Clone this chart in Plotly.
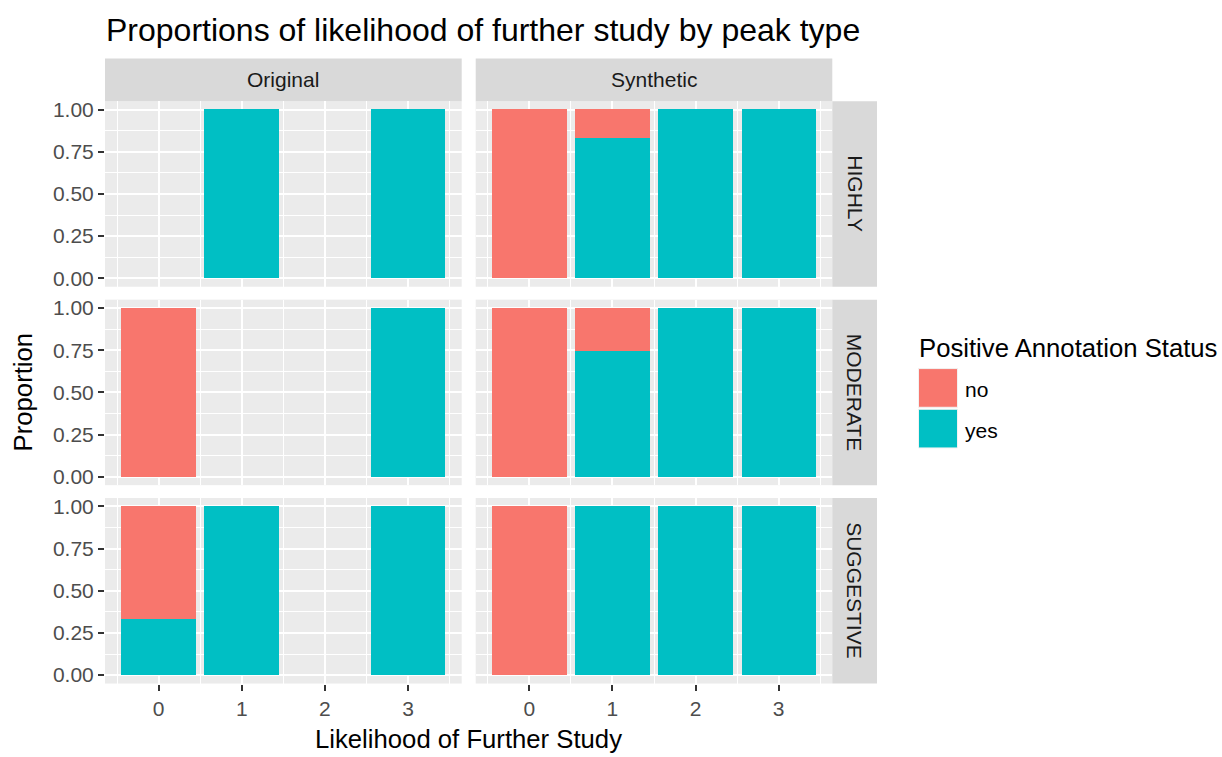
import plotly.graph_objects as go

# ---- data ----
x_levels = [0, 1, 2, 3]
col_facets = ["Original", "Synthetic"]
row_facets = ["HIGHLY", "MODERATE", "SUGGESTIVE"]
y_ticks = [0, 0.25, 0.5, 0.75, 1.0]
y_ticklabels = ["0.00", "0.25", "0.50", "0.75", "1.00"]

# proportions per panel, indexed by x level (None = no bar)
orig_highly_yes = [None, 1.0, None, 1.0]
orig_highly_no = [None, 0.0, None, 0.0]
orig_moderate_yes = [0.0, None, None, 1.0]
orig_moderate_no = [1.0, None, None, 0.0]
orig_suggestive_yes = [0.333, 1.0, None, 1.0]
orig_suggestive_no = [0.667, 0.0, None, 0.0]

synth_highly_yes = [0.0, 0.833, 1.0, 1.0]
synth_highly_no = [1.0, 0.167, 0.0, 0.0]
synth_moderate_yes = [0.0, 0.75, 1.0, 1.0]
synth_moderate_no = [1.0, 0.25, 0.0, 0.0]
synth_suggestive_yes = [0.0, 1.0, 1.0, 1.0]
synth_suggestive_no = [1.0, 0.0, 0.0, 0.0]

panels = {
    ("Original", "HIGHLY"): (orig_highly_yes, orig_highly_no),
    ("Original", "MODERATE"): (orig_moderate_yes, orig_moderate_no),
    ("Original", "SUGGESTIVE"): (orig_suggestive_yes, orig_suggestive_no),
    ("Synthetic", "HIGHLY"): (synth_highly_yes, synth_highly_no),
    ("Synthetic", "MODERATE"): (synth_moderate_yes, synth_moderate_no),
    ("Synthetic", "SUGGESTIVE"): (synth_suggestive_yes, synth_suggestive_no),
}

# ---- styling ----
W, H = 1222, 757
COL_NO = "#F8766D"
COL_YES = "#00BFC4"
PANEL_BG = "#EBEBEB"
STRIP_BG = "#D9D9D9"
FONT = "Liberation Sans, Arial, sans-serif"
BASE = 25.7
SMALL = 21
TITLE = 32

col_px = [(105, 461.7), (475.7, 832.3)]
row_px = [(99, 286), (299, 486), (499, 686)]
strip_top = 56
row_strip_right = 877


def px_x(p):
    return p / W


def px_y(p):
    return 1 - p / H


fig = go.Figure()
layout = dict(
    width=W, height=H,
    margin=dict(l=0, r=0, t=0, b=0),
    paper_bgcolor="white",
    plot_bgcolor=PANEL_BG,
    barmode="stack",
    bargap=0,
    showlegend=False,
    font=dict(family=FONT, color="#4D4D4D"),
)

shapes = []
annotations = []

idx = 0
for ri, rname in enumerate(row_facets):
    for ci, cname in enumerate(col_facets):
        idx += 1
        xa = "x" if idx == 1 else f"x{idx}"
        ya = "y" if idx == 1 else f"y{idx}"
        yes_vals, no_vals = panels[(cname, rname)]
        fig.add_trace(go.Bar(x=x_levels, y=yes_vals, width=0.9, name="yes",
                             marker=dict(color=COL_YES, line=dict(width=0)),
                             xaxis=xa, yaxis=ya))
        fig.add_trace(go.Bar(x=x_levels, y=no_vals, width=0.9, name="no",
                             marker=dict(color=COL_NO, line=dict(width=0)),
                             xaxis=xa, yaxis=ya))
        bottom = ri == len(row_facets) - 1
        left = ci == 0
        xkey = "xaxis" if idx == 1 else f"xaxis{idx}"
        ykey = "yaxis" if idx == 1 else f"yaxis{idx}"
        layout[xkey] = dict(
            domain=[px_x(col_px[ci][0]), px_x(col_px[ci][1])],
            anchor=ya,
            range=[-0.645, 3.645],
            tickmode="array", tickvals=x_levels, ticktext=[str(v) for v in x_levels],
            showticklabels=bottom,
            ticks="outside" if bottom else "",
            ticklen=6, tickwidth=1.6, tickcolor="#333333",
            tickfont=dict(size=SMALL, color="#4D4D4D", family=FONT),
            showgrid=True, gridcolor="white", gridwidth=2,
            minor=dict(tickvals=[-0.5, 0.5, 1.5, 2.5, 3.5], showgrid=True,
                       gridcolor="white", gridwidth=1, ticks=""),
            zeroline=False, showline=False, fixedrange=True,
        )
        layout[ykey] = dict(
            domain=[px_y(row_px[ri][1]), px_y(row_px[ri][0])],
            anchor=xa,
            range=[-0.05, 1.05],
            tickmode="array", tickvals=y_ticks, ticktext=y_ticklabels,
            showticklabels=left,
            ticks="outside" if left else "",
            ticklen=6, tickwidth=1.6, tickcolor="#333333",
            tickfont=dict(size=SMALL, color="#4D4D4D", family=FONT),
            showgrid=True, gridcolor="white", gridwidth=2,
            minor=dict(tickvals=[0.125, 0.375, 0.625, 0.875], showgrid=True,
                       gridcolor="white", gridwidth=1, ticks=""),
            zeroline=False, showline=False, fixedrange=True,
        )

# column strips
for ci, cname in enumerate(col_facets):
    x0, x1 = col_px[ci]
    shapes.append(dict(type="rect", xref="paper", yref="paper",
                       x0=px_x(x0), x1=px_x(x1), y0=px_y(row_px[0][0]), y1=px_y(strip_top),
                       fillcolor=STRIP_BG, line=dict(width=0), layer="below"))
    annotations.append(dict(text=cname, xref="paper", yref="paper",
                            x=px_x((x0 + x1) / 2), y=px_y((strip_top + row_px[0][0]) / 2),
                            xanchor="center", yanchor="middle", showarrow=False,
                            font=dict(size=SMALL, color="#1A1A1A", family=FONT)))

# row strips
for ri, rname in enumerate(row_facets):
    y0, y1 = row_px[ri]
    shapes.append(dict(type="rect", xref="paper", yref="paper",
                       x0=px_x(col_px[1][1]), x1=px_x(row_strip_right), y0=px_y(y1), y1=px_y(y0),
                       fillcolor=STRIP_BG, line=dict(width=0), layer="below"))
    annotations.append(dict(text=rname, xref="paper", yref="paper",
                            x=px_x((col_px[1][1] + row_strip_right) / 2), y=px_y((y0 + y1) / 2),
                            xanchor="center", yanchor="middle", showarrow=False, textangle=90,
                            font=dict(size=SMALL, color="#1A1A1A", family=FONT)))

# axis titles
annotations.append(dict(text="Likelihood of Further Study", xref="paper", yref="paper",
                        x=px_x((col_px[0][0] + col_px[1][1]) / 2), y=px_y(742),
                        xanchor="center", yanchor="middle", showarrow=False,
                        font=dict(size=BASE, color="black", family=FONT)))
annotations.append(dict(text="Proportion", xref="paper", yref="paper",
                        x=px_x(23), y=px_y((row_px[0][0] + row_px[2][1]) / 2),
                        xanchor="center", yanchor="middle", showarrow=False, textangle=-90,
                        font=dict(size=BASE, color="black", family=FONT)))

# legend (drawn manually to match key size)
legend_items = [("no", COL_NO, 368.5), ("yes", COL_YES, 409.5)]
annotations.append(dict(text="Positive Annotation Status", xref="paper", yref="paper",
                        x=px_x(917), y=px_y(348), xanchor="left", yanchor="middle",
                        showarrow=False, font=dict(size=BASE, color="black", family=FONT)))
for label, color, top in legend_items:
    shapes.append(dict(type="rect", xref="paper", yref="paper",
                       x0=px_x(918.5), x1=px_x(957.5), y0=px_y(top + 39), y1=px_y(top),
                       fillcolor=color, line=dict(color="#F2F2F2", width=1)))
    annotations.append(dict(text=label, xref="paper", yref="paper",
                            x=px_x(963), y=px_y(top + 21), xanchor="left", yanchor="middle",
                            showarrow=False, font=dict(size=SMALL, color="black", family=FONT)))

layout["shapes"] = shapes
layout["annotations"] = annotations
layout["title"] = dict(text="Proportions of likelihood of further study by peak type",
                       x=px_x(106), xanchor="left", xref="paper",
                       y=px_y(27), yanchor="middle", yref="paper",
                       font=dict(size=TITLE, color="black", family=FONT))

fig.update_layout(**layout)
fig.write_html("out.html", config={"displayModeBar": False},
               post_script="document.body.style.margin='0';")
